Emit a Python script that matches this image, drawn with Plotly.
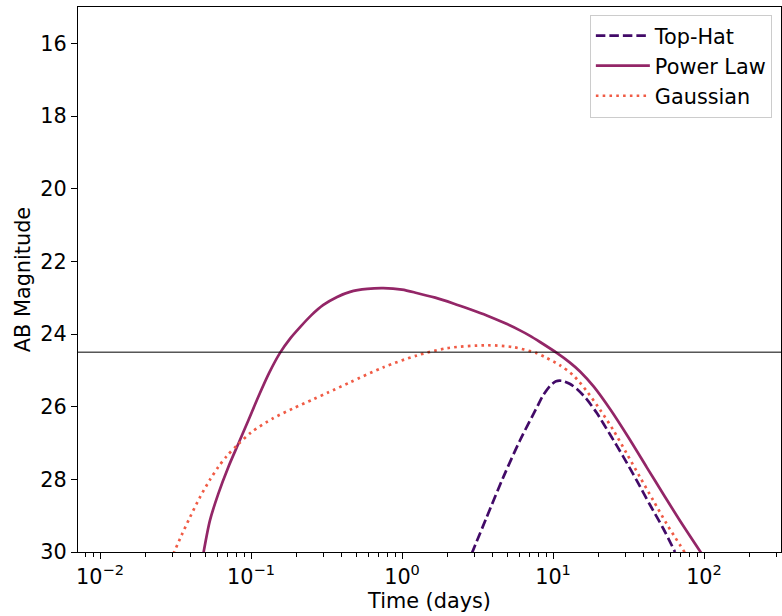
import plotly.graph_objects as go

# log10(time in days) and AB magnitude values
logt_tophat = [0.461, 0.561, 0.671, 0.781, 0.893, 0.930, 0.980, 1.020, 1.060, 1.110, 1.160, 1.220,
               1.289, 1.377, 1.466, 1.554, 1.642, 1.731, 1.808]
m_tophat = [30.05, 29.04, 27.94, 26.93, 26.02, 25.72, 25.43, 25.30, 25.29, 25.37, 25.52, 25.78,
            26.17, 26.76, 27.38, 28.03, 28.70, 29.36, 30.00]

logt_power = [-1.316, -1.272, -1.217, -1.150, -1.084, -1.018, -0.951, -0.880, -0.808, -0.740, -0.675,
              -0.600, -0.521, -0.430, -0.344, -0.230, -0.124, 0.000, 0.097, 0.220, 0.340, 0.450,
              0.561, 0.680, 0.781, 0.848, 0.914, 1.025, 1.110, 1.179, 1.270, 1.380, 1.500, 1.621,
              1.731, 1.841, 1.990]
m_power = [30.05, 29.13, 28.40, 27.66, 27.02, 26.38, 25.72, 25.07, 24.52, 24.12, 23.81,
           23.48, 23.20, 22.98, 22.84, 22.76, 22.74, 22.78, 22.87, 23.00, 23.16, 23.32,
           23.49, 23.70, 23.90, 24.05, 24.22, 24.52, 24.78, 25.03, 25.45, 26.08, 26.85, 27.67,
           28.41, 29.14, 30.08]

logt_gauss = [-1.514, -1.459, -1.404, -1.338, -1.272, -1.217, -1.161, -1.084, -1.000, -0.854,
              -0.722, -0.589, -0.490, -0.344, -0.126, 0.099, 0.298, 0.563, 0.735, 0.894,
              0.958, 1.046, 1.135, 1.223, 1.311, 1.400, 1.488, 1.576, 1.664, 1.752, 1.874]
m_gauss = [30.05, 29.53, 29.04, 28.49, 28.01, 27.66, 27.36, 27.03, 26.71, 26.32,
           26.05, 25.80, 25.61, 25.33, 24.92, 24.59, 24.39, 24.31, 24.36, 24.53,
           24.66, 24.86, 25.14, 25.57, 26.08, 26.65, 27.29, 27.94, 28.58, 29.22, 30.02]

limit_mag = 24.5

x_tickvals = [0.01, 0.1, 1, 10, 100]
x_ticktext = ["10<sup>−2</sup>", "10<sup>−1</sup>", "10<sup>0</sup>", "10<sup>1</sup>", "10<sup>2</sup>"]
y_tickvals = [16, 18, 20, 22, 24, 26, 28, 30]

minor_vals = [k * 10.0 ** n for n in range(-3, 3) for k in range(2, 10)]


def to_days(logs):
    return [10.0 ** v for v in logs]


fig = go.Figure()
fig.add_trace(go.Scatter(x=to_days(logt_tophat), y=m_tophat, mode="lines", name="Top-Hat",
                         line=dict(color="#420a68", width=2.7, dash="9.5px,4px",
                                   shape="spline", smoothing=0.8)))
fig.add_trace(go.Scatter(x=to_days(logt_power), y=m_power, mode="lines", name="Power Law",
                         line=dict(color="#932667", width=2.7, shape="spline", smoothing=0.8)))
fig.add_trace(go.Scatter(x=to_days(logt_gauss), y=m_gauss, mode="lines", name="Gaussian",
                         line=dict(color="#f05b45", width=2.7, dash="2.6px,4.2px",
                                   shape="spline", smoothing=0.8)))

fig.add_shape(type="line", xref="paper", x0=0, x1=1, yref="y", y0=limit_mag, y1=limit_mag,
              line=dict(color="black", width=1))

font = dict(family="DejaVu Sans", size=20.8, color="black")

fig.update_layout(
    width=782, height=616,
    margin=dict(l=78, r=1, t=7, b=64),
    paper_bgcolor="white", plot_bgcolor="white",
    font=font,
    showlegend=True,
    legend=dict(x=0.987, y=0.986, xanchor="right", yanchor="top",
                bgcolor="rgba(255,255,255,0.8)", bordercolor="#cccccc", borderwidth=1,
                font=font, tracegroupgap=0, itemwidth=54),
    xaxis=dict(type="log", range=[-2.146, 2.51],
               tickmode="array", tickvals=x_tickvals, ticktext=x_ticktext,
               ticks="outside", ticklen=6, tickwidth=1, tickcolor="black",
               showline=True, linecolor="black", linewidth=1, mirror=True,
               showgrid=False, zeroline=False,
               minor=dict(tickmode="array", tickvals=minor_vals, ticks="outside",
                          ticklen=3.5, tickwidth=0.8, tickcolor="black", showgrid=False),
               title=dict(text="Time (days)", font=font, standoff=4),
               tickfont=font),
    yaxis=dict(range=[30, 15], tickmode="array", tickvals=y_tickvals,
               ticks="outside", ticklen=6, tickwidth=1, tickcolor="black",
               showline=True, linecolor="black", linewidth=1, mirror=True,
               showgrid=False, zeroline=False,
               title=dict(text="AB Magnitude", font=font, standoff=4),
               tickfont=font),
)

fig.write_html("out.html")
